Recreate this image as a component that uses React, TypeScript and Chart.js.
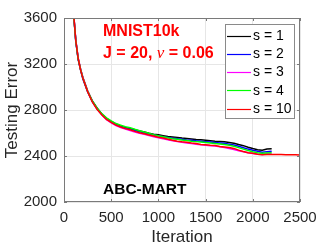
import React, { useEffect, useRef } from 'react';
import { Chart, registerables } from 'chart.js';
Chart.register(...registerables);

const iterations = [100, 125, 150, 175, 200, 250, 300, 350, 400, 450, 500, 550, 600, 650, 700, 750, 800, 850, 900, 950, 1000, 1050, 1100, 1150, 1200, 1250, 1300, 1350, 1400, 1450, 1500, 1550, 1600, 1650, 1700, 1750, 1800, 1850, 1900, 1950, 2000, 2050, 2100, 2150, 2200, 2250, 2300, 2350, 2400, 2450, 2500];

const s1Values = [3650, 3405, 3245, 3155, 3080, 2965, 2880, 2818, 2765, 2728, 2700, 2678, 2662, 2648, 2640, 2628, 2618, 2608, 2598, 2590, 2584, 2577, 2570, 2566, 2562, 2556, 2552, 2548, 2544, 2541, 2537, 2533, 2529, 2527, 2524, 2518, 2511, 2500, 2490, 2476, 2465, 2455, 2450, 2460, 2462];
const s2Values = [3655, 3395, 3240, 3150, 3070, 2958, 2872, 2810, 2760, 2722, 2695, 2672, 2655, 2642, 2633, 2621, 2610, 2600, 2591, 2582, 2575, 2568, 2561, 2555, 2550, 2545, 2540, 2536, 2532, 2529, 2525, 2521, 2517, 2514, 2510, 2503, 2495, 2484, 2472, 2460, 2450, 2441, 2433, 2438, 2442];
const s3Values = [3660, 3410, 3255, 3160, 3085, 2970, 2875, 2808, 2758, 2716, 2688, 2664, 2648, 2634, 2622, 2609, 2598, 2588, 2578, 2568, 2558, 2550, 2541, 2533, 2525, 2519, 2514, 2508, 2503, 2497, 2493, 2490, 2486, 2480, 2474, 2466, 2456, 2446, 2436, 2428, 2421, 2416, 2414, 2417, 2418];
const s4Values = [3650, 3400, 3245, 3155, 3078, 2965, 2878, 2815, 2768, 2732, 2705, 2682, 2668, 2655, 2645, 2632, 2620, 2608, 2597, 2586, 2576, 2567, 2558, 2551, 2545, 2539, 2534, 2529, 2525, 2521, 2517, 2513, 2509, 2505, 2500, 2493, 2485, 2473, 2460, 2448, 2437, 2428, 2423, 2426, 2428];
const s10Values = [3660, 3400, 3250, 3150, 3075, 2960, 2870, 2805, 2758, 2718, 2692, 2668, 2652, 2638, 2628, 2614, 2603, 2594, 2583, 2574, 2563, 2556, 2546, 2537, 2529, 2523, 2519, 2513, 2509, 2501, 2498, 2494, 2491, 2483, 2479, 2473, 2466, 2451, 2439, 2429, 2423, 2416, 2411, 2414, 2412, 2413, 2414, 2410, 2411, 2410, 2408];

const seriesLabels = ['s = 1', 's = 2', 's = 3', 's = 4', 's = 10'];
const seriesValues = [s1Values, s2Values, s3Values, s4Values, s10Values];
const seriesColors = ['#000000', '#0000ff', '#ff00ff', '#00ff00', '#ff0000'];

const xTicks = [0, 500, 1000, 1500, 2000, 2500];
const yTicks = [2000, 2400, 2800, 3200, 3600];

const FONT = '"Liberation Sans", Arial, Helvetica, sans-serif';

const overlay = {
  id: 'overlay',
  afterDatasetsDraw(chart: any) {
    const { ctx, chartArea, scales } = chart;
    const { left, right, top, bottom } = chartArea;
    const xs = scales.x;
    const ys = scales.y;
    ctx.save();
    ctx.strokeStyle = '#7a7a7a';
    ctx.lineWidth = 1;
    ctx.strokeRect(Math.round(left) + 0.5, Math.round(top) + 0.5, Math.round(right - left) - 1, Math.round(bottom - top) - 1);
    ctx.beginPath();
    xTicks.forEach((v) => {
      const px = Math.round(xs.getPixelForValue(v)) + 0.5;
      ctx.moveTo(px, bottom); ctx.lineTo(px, bottom - 3);
      ctx.moveTo(px, top); ctx.lineTo(px, top + 3);
    });
    yTicks.forEach((v) => {
      const py = Math.round(ys.getPixelForValue(v)) + 0.5;
      ctx.moveTo(left, py); ctx.lineTo(left + 3, py);
      ctx.moveTo(right, py); ctx.lineTo(right - 3, py);
    });
    ctx.stroke();

    ctx.textBaseline = 'middle';
    ctx.textAlign = 'left';
    ctx.fillStyle = '#ff0000';
    ctx.font = `bold 16px ${FONT}`;
    ctx.fillText('MNIST10k', 103, 32);
    let tx = 103;
    const part1 = 'J = 20, ';
    ctx.fillText(part1, tx, 54);
    tx += ctx.measureText(part1).width;
    ctx.font = `italic 17px "Liberation Serif", "DejaVu Serif", serif`;
    ctx.fillText('ν', tx, 54);
    tx += ctx.measureText('ν').width;
    ctx.font = `bold 16px ${FONT}`;
    ctx.fillText(' = 0.06', tx, 54);

    ctx.fillStyle = '#000000';
    ctx.font = `bold 15.5px ${FONT}`;
    ctx.fillText('ABC-MART', 103, 190);

    const lx = 225, ly = 24, lw = 69, lh = 94;
    ctx.fillStyle = '#ffffff';
    ctx.fillRect(lx, ly, lw, lh);
    ctx.strokeStyle = '#8a8a8a';
    ctx.lineWidth = 1;
    ctx.strokeRect(lx + 0.5, ly + 0.5, lw, lh);
    ctx.font = `14px ${FONT}`;
    seriesLabels.forEach((lab, i) => {
      const cy = 35.5 + i * 18.3;
      ctx.strokeStyle = seriesColors[i];
      ctx.lineWidth = 1.2;
      ctx.beginPath();
      ctx.moveTo(227, Math.round(cy) + 0.5);
      ctx.lineTo(251, Math.round(cy) + 0.5);
      ctx.stroke();
      ctx.fillStyle = '#000000';
      ctx.fillText(lab, 253, cy + 0.5);
    });
    ctx.restore();
  },
};

export default function App() {
  const ref = useRef<HTMLCanvasElement>(null);
  useEffect(() => {
    if (!ref.current) return;
    const datasets = seriesValues.map((vals, i) => ({
      label: seriesLabels[i],
      data: vals.map((v, j) => ({ x: iterations[j], y: v })),
      borderColor: seriesColors[i],
      backgroundColor: seriesColors[i],
      borderWidth: 1.5,
      pointRadius: 0,
      fill: false,
      tension: 0,
      order: 5 - i,
    }));
    const chart = new Chart(ref.current, {
      type: 'line',
      data: { datasets },
      options: {
        responsive: false,
        animation: false,
        events: [],
        layout: { padding: { top: 18, right: 32, left: 0, bottom: 0 } },
        plugins: { legend: { display: false }, tooltip: { enabled: false } },
        scales: {
          x: {
            type: 'linear',
            min: 0,
            max: 2500,
            afterFit: (s: any) => { s.height = 47; },
            afterBuildTicks: (s: any) => { s.ticks = xTicks.map((v) => ({ value: v })); },
            ticks: {
              padding: 7,
              color: '#262626',
              font: { family: FONT, size: 15 },
              maxRotation: 0,
              autoSkip: false,
              callback: (v: any) => String(v),
            },
            grid: { color: '#e6e6e6', drawTicks: false, lineWidth: 1 },
            border: { display: false },
            title: {
              display: true,
              text: 'Iteration',
              color: '#262626',
              font: { family: FONT, size: 17 },
              padding: { top: 0, bottom: 1 },
            },
          },
          y: {
            type: 'linear',
            min: 2000,
            max: 3600,
            afterFit: (s: any) => { s.width = 64; },
            afterBuildTicks: (s: any) => { s.ticks = yTicks.map((v) => ({ value: v })); },
            ticks: {
              padding: 7,
              color: '#262626',
              font: { family: FONT, size: 15 },
              autoSkip: false,
              callback: (v: any) => String(v),
            },
            grid: { color: '#e6e6e6', drawTicks: false, lineWidth: 1 },
            border: { display: false },
            title: {
              display: true,
              text: 'Testing Error',
              color: '#262626',
              font: { family: FONT, size: 17 },
              padding: { top: 2, bottom: 0 },
            },
          },
        },
      },
      plugins: [overlay],
    });
    return () => chart.destroy();
  }, []);
  return (
    <div style={{ position: 'fixed', left: 0, top: 0, width: 332, height: 249, background: '#fff' }}>
      <canvas ref={ref} width={332} height={249} style={{ display: 'block' }} />
    </div>
  );
}
